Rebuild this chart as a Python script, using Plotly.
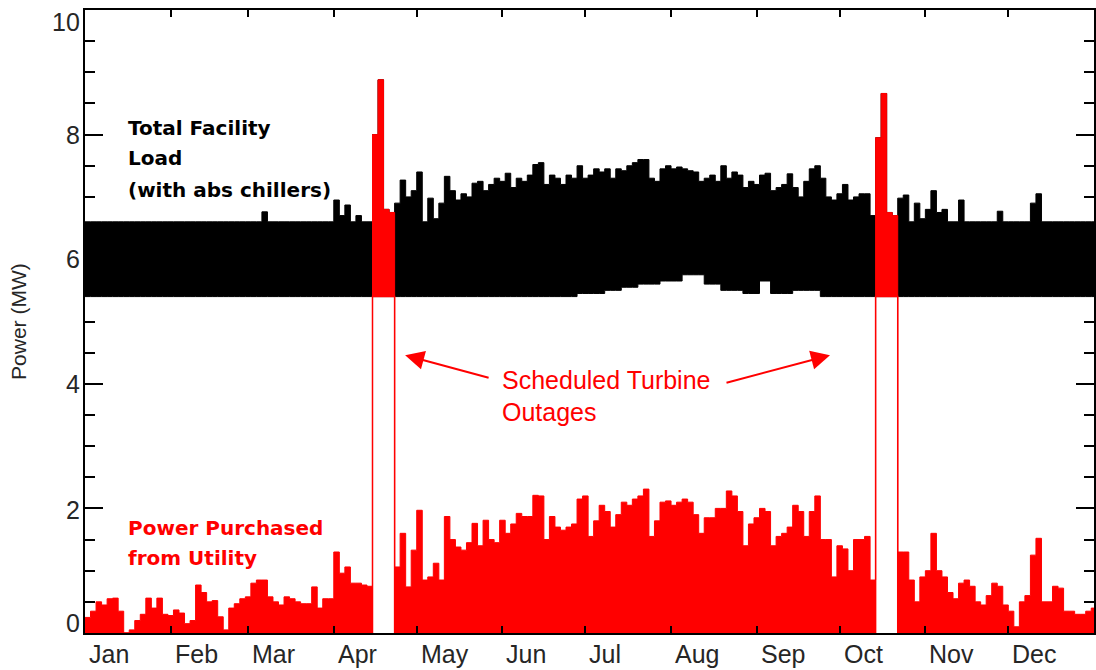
import numpy as np
import plotly.graph_objects as go

# ---------------- data (2-day bins, Jan 1 .. Dec 31) ----------------
BIN_DAYS = 2

# Total facility load, upper envelope per bin (MW)
load_hi = [
    6.6, 6.6, 6.6, 6.6, 6.6, 6.6, 6.6, 6.6, 6.6, 6.6,
    6.6, 6.6, 6.6, 6.6, 6.6, 6.6, 6.6, 6.6, 6.6, 6.6,
    6.6, 6.6, 6.6, 6.6, 6.6, 6.6, 6.6, 6.6, 6.6, 6.6,
    6.6, 6.6, 6.76, 6.6, 6.6, 6.6, 6.6, 6.6, 6.6, 6.6,
    6.6, 6.6, 6.6, 6.6, 6.6, 6.95, 6.7, 6.87, 6.6, 6.7,
    6.6, 6.6, 8.0, 8.88, 6.8, 6.75, 6.9, 7.27, 7.0, 7.1,
    7.4, 6.6, 6.98, 6.65, 6.9, 7.33, 7.1, 6.95, 7.05, 7.0,
    7.22, 7.25, 7.1, 7.2, 7.3, 7.25, 7.38, 7.15, 7.3, 7.25,
    7.35, 7.52, 7.55, 7.2, 7.35, 7.3, 7.2, 7.35, 7.3, 7.5,
    7.3, 7.35, 7.45, 7.4, 7.45, 7.3, 7.45, 7.42, 7.5, 7.55,
    7.6, 7.6, 7.3, 7.25, 7.45, 7.5, 7.45, 7.48, 7.45, 7.42,
    7.4, 7.25, 7.3, 7.35, 7.25, 7.5, 7.3, 7.4, 7.35, 7.15,
    7.25, 7.2, 7.35, 7.38, 7.1, 7.15, 7.2, 7.37, 7.15, 7.0,
    7.25, 7.45, 7.5, 7.3, 7.0, 6.95, 7.05, 7.2, 6.95, 7.0,
    7.05, 7.05, 6.7, 7.95, 8.66, 6.75, 6.7, 6.98, 7.03, 6.6,
    6.9, 6.65, 6.8, 7.1, 6.75, 6.8, 6.6, 6.6, 6.95, 6.6,
    6.6, 6.6, 6.6, 6.6, 6.6, 6.77, 6.6, 6.6, 6.6, 6.6,
    6.6, 6.9, 7.05, 6.6, 6.6, 6.6, 6.6, 6.6, 6.6, 6.6,
    6.6, 6.6, 6.6,
]

# Total facility load, lower envelope per bin (MW)
load_lo = [
    5.4, 5.4, 5.4, 5.4, 5.4, 5.4, 5.4, 5.4, 5.4, 5.4,
    5.4, 5.4, 5.4, 5.4, 5.4, 5.4, 5.4, 5.4, 5.4, 5.4,
    5.4, 5.4, 5.4, 5.4, 5.4, 5.4, 5.4, 5.4, 5.4, 5.4,
    5.4, 5.4, 5.4, 5.4, 5.4, 5.4, 5.4, 5.4, 5.4, 5.4,
    5.4, 5.4, 5.4, 5.4, 5.4, 5.4, 5.4, 5.4, 5.4, 5.4,
    5.4, 5.4, 5.4, 5.4, 5.4, 5.4, 5.4, 5.4, 5.4, 5.4,
    5.4, 5.4, 5.4, 5.4, 5.4, 5.4, 5.4, 5.4, 5.4, 5.4,
    5.4, 5.4, 5.4, 5.4, 5.4, 5.4, 5.4, 5.4, 5.4, 5.4,
    5.4, 5.4, 5.4, 5.4, 5.4, 5.4, 5.4, 5.4, 5.4, 5.45,
    5.45, 5.45, 5.45, 5.45, 5.5, 5.5, 5.5, 5.55, 5.55, 5.55,
    5.6, 5.6, 5.6, 5.6, 5.65, 5.65, 5.65, 5.65, 5.75, 5.75,
    5.75, 5.75, 5.6, 5.6, 5.6, 5.5, 5.5, 5.5, 5.5, 5.45,
    5.45, 5.45, 5.65, 5.65, 5.45, 5.45, 5.45, 5.45, 5.5, 5.5,
    5.5, 5.5, 5.5, 5.4, 5.4, 5.4, 5.4, 5.4, 5.4, 5.4,
    5.4, 5.4, 5.4, 5.4, 5.4, 5.4, 5.4, 5.4, 5.4, 5.4,
    5.4, 5.4, 5.4, 5.4, 5.4, 5.4, 5.4, 5.4, 5.4, 5.4,
    5.4, 5.4, 5.4, 5.4, 5.4, 5.4, 5.4, 5.4, 5.4, 5.4,
    5.4, 5.4, 5.4, 5.4, 5.4, 5.4, 5.4, 5.4, 5.4, 5.4,
    5.4, 5.4, 5.4,
]

# Power purchased from utility, upper envelope per bin (MW);
# None = turbine outage (all load purchased)
purchased_hi = [
    0.25, 0.35, 0.5, 0.45, 0.55, 0.56, 0.35, 0.0, 0.05, 0.2,
    0.3, 0.56, 0.4, 0.56, 0.3, 0.28, 0.37, 0.32, 0.15, 0.2,
    0.77, 0.65, 0.5, 0.52, 0.26, 0.05, 0.4, 0.47, 0.55, 0.58,
    0.8, 0.85, 0.85, 0.58, 0.5, 0.45, 0.58, 0.55, 0.5, 0.47,
    0.47, 0.74, 0.4, 0.55, 0.55, 1.3, 0.96, 1.06, 0.8, 0.8,
    0.77, 0.75, None, None, None, None, 1.06, 1.6, 0.74, 1.33,
    1.97, 0.85, 0.9, 1.12, 0.85, 1.87, 1.5, 1.38, 1.33, 1.45,
    1.76, 1.4, 1.81, 1.5, 1.45, 1.81, 1.6, 1.75, 1.92, 1.87,
    1.87, 2.21, 2.2, 1.5, 1.87, 1.7, 1.65, 1.7, 1.75, 2.15,
    2.2, 1.55, 1.8, 2.05, 1.95, 1.7, 1.9, 2.1, 2.05, 2.15,
    2.2, 2.31, 1.55, 1.8, 2.1, 2.12, 2.05, 2.1, 2.15, 2.1,
    1.9, 1.6, 1.85, 1.85, 2.0, 2.0, 2.28, 2.2, 1.95, 1.4,
    1.75, 1.85, 2.0, 1.95, 1.4, 1.55, 1.6, 1.7, 2.05, 1.95,
    1.55, 1.95, 2.2, 1.5, 1.5, 0.9, 1.4, 1.35, 1.0, 1.5,
    1.5, 1.55, 0.85, None, None, None, None, 1.3, 1.3, 0.85,
    0.5, 0.9, 1.0, 1.6, 1.0, 0.9, 0.65, 0.55, 0.8, 0.85,
    0.75, 0.5, 0.45, 0.6, 0.8, 0.75, 0.45, 0.35, 0.1, 0.5,
    0.6, 1.25, 1.52, 0.5, 0.5, 0.75, 0.72, 0.35, 0.35, 0.3,
    0.3, 0.35, 0.4,
]

month_names = ["Jan", "Feb", "Mar", "Apr", "May", "Jun",
               "Jul", "Aug", "Sep", "Oct", "Nov", "Dec"]
month_start_day = [0, 31, 59, 90, 120, 151, 181, 212, 243, 273, 304, 334]
y_tick_values = [0, 2, 4, 6, 8, 10]

# ---------------- derived series ----------------
n = len(load_hi)
days = np.arange(n) * BIN_DAYS
x_step = np.append(days, 365)

def close_step(arr):
    arr = np.asarray(arr, dtype=float)
    return np.append(arr, arr[-1])

lhi = np.asarray(load_hi, dtype=float)
llo = np.asarray(load_lo, dtype=float)
outage = np.array([v is None for v in purchased_hi])
phi = np.array([lhi[i] if outage[i] else purchased_hi[i] for i in range(n)])
plo = np.where(outage, llo, 0.0)

RED = "#ff0000"
fig = go.Figure()
fig.add_trace(go.Scatter(x=x_step, y=close_step(llo), mode="lines",
                         line=dict(color="black", width=1, shape="hv"),
                         hoverinfo="skip", showlegend=False))
fig.add_trace(go.Scatter(x=x_step, y=close_step(lhi), mode="lines",
                         line=dict(color="black", width=1, shape="hv"),
                         fill="tonexty", fillcolor="black",
                         hoverinfo="skip", showlegend=False))
fig.add_trace(go.Scatter(x=x_step, y=close_step(plo), mode="lines",
                         line=dict(color=RED, width=1.5, shape="hv"),
                         hoverinfo="skip", showlegend=False))
fig.add_trace(go.Scatter(x=x_step, y=close_step(phi), mode="lines",
                         line=dict(color=RED, width=1, shape="hv"),
                         fill="tonexty", fillcolor=RED,
                         hoverinfo="skip", showlegend=False))

TICK_FONT = dict(family="Liberation Sans, Arial, sans-serif", size=25, color="#262626")
ann = []
for v in y_tick_values:
    ys = 10 if v == 0 else (-12 if v == 10 else (-2 if v == 2 else 0))
    ann.append(dict(x=0, xref="paper", y=v, yref="y", text=str(v), showarrow=False,
                    xanchor="right", yanchor="middle", xshift=-3, yshift=ys, font=TICK_FONT))
for name, d in zip(month_names, month_start_day):
    ann.append(dict(x=d, xref="x", y=0, yref="paper", text=name, showarrow=False,
                    xanchor="left", yanchor="top", xshift=2, yshift=-5, font=TICK_FONT))

ann.append(dict(x=-0.066, xref="paper", y=0.5, yref="paper", text="Power (MW)",
                textangle=-90, showarrow=False, xanchor="center", yanchor="middle",
                font=dict(family="Liberation Sans, Arial, sans-serif", size=21, color="#262626")))

BOLD = dict(family="DejaVu Sans, sans-serif", size=20, color="black", weight="bold")
for txt, yv in [("Total Facility", 8.11), ("Load", 7.62), ("(with abs chillers)", 7.11)]:
    ann.append(dict(x=14.8, y=yv, text="<b>%s</b>" % txt, showarrow=False,
                    xanchor="left", yanchor="middle", font=BOLD))
BOLDR = dict(BOLD, color=RED)
for txt, yv in [("Power Purchased", 1.69), ("from Utility", 1.20)]:
    ann.append(dict(x=14.8, y=yv, text="<b>%s</b>" % txt, showarrow=False,
                    xanchor="left", yanchor="middle", font=BOLDR))
REG = dict(family="Liberation Sans, Arial, sans-serif", size=25, color=RED)
for txt, yv in [("Scheduled Turbine", 4.06), ("Outages", 3.55)]:
    ann.append(dict(x=150.0, y=yv, text=txt, showarrow=False,
                    xanchor="left", yanchor="middle", font=REG))
# arrows
ann.append(dict(x=115.8, y=4.46, ax=85, ay=23, text="", showarrow=True,
                arrowhead=2, arrowsize=1.9, arrowwidth=2, arrowcolor=RED))
ann.append(dict(x=269.5, y=4.46, ax=-105, ay=28, text="", showarrow=True,
                arrowhead=2, arrowsize=1.9, arrowwidth=2, arrowcolor=RED))

minor_y = [k * 0.5 for k in range(1, 20) if (k * 0.5) % 2 != 0]

fig.update_layout(
    width=1096, height=670,
    margin=dict(l=85, r=2, t=10, b=37, autoexpand=False),
    paper_bgcolor="white", plot_bgcolor="white",
    showlegend=False,
    annotations=ann,
    xaxis=dict(range=[0, 365], showgrid=False, zeroline=False,
               showline=True, linecolor="black", linewidth=1.5, mirror="ticks",
               tickmode="array", tickvals=month_start_day[1:], ticks="inside",
               ticklen=7, tickwidth=1.5, tickcolor="black", showticklabels=False),
    yaxis=dict(range=[0, 10], showgrid=False, zeroline=False,
               showline=True, linecolor="black", linewidth=1.5, mirror="ticks",
               tickmode="array", tickvals=y_tick_values, ticks="inside",
               ticklen=18, tickwidth=1.5, tickcolor="black", showticklabels=False,
               minor=dict(tickmode="array", tickvals=minor_y, ticks="inside",
                          ticklen=10, tickwidth=1.5, tickcolor="black")),
)

fig.write_html("out.html")
